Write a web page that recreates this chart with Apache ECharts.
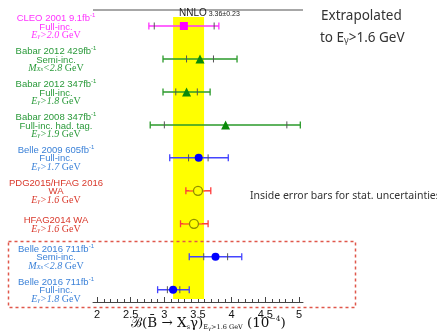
<!DOCTYPE html>
<html><head><meta charset="utf-8">
<script src="https://cdn.jsdelivr.net/npm/echarts@6/dist/echarts.min.js"></script>
<style>html,body{margin:0;padding:0;background:#fff}#c{width:437px;height:334px}</style>
</head><body><div id="c"></div>
<script>
// ---- data ----
const names   = ['CLEO 2001 9.1fb', 'Babar 2012 429fb', 'Babar 2012 347fb', 'Babar 2008 347fb', 'Belle 2009 605fb', 'PDG2015/HFAG 2016', 'HFAG2014 WA', 'Belle 2016 711fb', 'Belle 2016 711fb'];
const lumiSup = ['-1', '-1', '-1', '-1', '-1', '', '', '-1', '-1'];
const methods = ['Full-inc.', 'Semi-inc.', 'Full-inc.', 'Full-inc. had. tag.', 'Full-inc.', 'WA', '', 'Semi-inc.', 'Full-inc.'];
const cutVar  = ['E', 'M', 'E', 'E', 'E', 'E', 'E', 'M', 'E'];
const cutSub  = ['γ', 'Xs', 'γ', 'γ', 'γ', 'γ', 'γ', 'Xs', 'γ'];
const cutOp   = ['>', '<', '>', '>', '>', '>', '>', '<', '>'];
const cutVal  = ['2.0', '2.8', '1.8', '1.9', '1.7', '1.6', '1.6', '2.8', '1.8'];
const groups  = ['cleo', 'babar', 'babar', 'babar', 'belle', 'avg', 'avg', 'belle', 'belle'];
const central = [3.29, 3.53, 3.33, 3.91, 3.51, 3.50, 3.44, 3.76, 3.13];
const totLo   = [2.77, 2.98, 2.98, 2.79, 3.08, 3.32, 3.24, 3.37, 2.90];
const totHi   = [3.81, 4.08, 3.68, 5.02, 3.95, 3.69, 3.65, 4.15, 3.37];
const statLo  = [2.85, 3.33, 3.17, 3.00, 3.36, 3.37, 3.28, 3.585, 3.045];
const statHi  = [3.74, 3.73, 3.49, 4.82, 3.65, 3.60, 3.56, 3.94, 3.23];
const nnloCentral = 3.36, nnloErr = 0.23;
const tickVals  = [2, 2.5, 3, 3.5, 4, 4.5, 5];
const tickLabels = ['2', '2.5', '3', '3.5', '4', '4.5', '5'];

// ---- styles ----
const G = {
  cleo:  {text: '#ff33ff', bar: '#ff33ff', fill: '#ff00ff', border: '#ff00ff', bw: 0, symbol: 'rect', size: 8, stat: 'tick'},
  babar: {text: '#2a9a3a', bar: '#2a9a2a', fill: '#0a8a0a', border: '#0a8a0a', bw: 0, symbol: 'triangle', size: 9, stat: 'tick'},
  belle: {text: '#3c82d8', bar: '#4444ff', fill: '#0000ff', border: '#0000ff', bw: 0, symbol: 'circle', size: 8, stat: 'tick'},
  avg:   {text: '#d9382b', bar: '#ff3b3b', fill: '#ffff00', border: '#8f8f00', bw: 1.3, symbol: 'circle', size: 9, stat: 'segment'}
};
const rows = names.map((n, i) => i);
const minorVals = [];
for (let v = 20; v <= 50; v++) if (v % 5) minorVals.push(v / 10);
const yMin = -0.485, yMax = 8.373;

const chart = echarts.init(document.getElementById('c'), null, {renderer: 'canvas'});

const rich = {
  n: {fontFamily: 'Liberation Sans, Arial, sans-serif', fontSize: 9.5, lineHeight: 10},
  s: {fontFamily: 'Liberation Sans, Arial, sans-serif', fontSize: 6, lineHeight: 10, padding: [0, 0, 6, 0]},
  i: {fontFamily: 'Liberation Serif, serif', fontStyle: 'italic', fontSize: 10, lineHeight: 10},
  b: {fontFamily: 'Liberation Serif, serif', fontStyle: 'italic', fontSize: 6.5, lineHeight: 10, padding: [3, 0, 0, 0]},
  r: {fontFamily: 'Liberation Serif, serif', fontSize: 10, lineHeight: 10}
};

function renderErr(params, api) {
  const r = api.value(0);
  const g = G[groups[r]];
  const pC = api.coord([central[r], r]);
  const y = pC[1];
  const xLo = api.coord([api.value(1), r])[0];
  const xHi = api.coord([api.value(2), r])[0];
  const sLo = api.coord([api.value(3), r])[0];
  const sHi = api.coord([api.value(4), r])[0];
  const ch = [];
  ch.push({type: 'line', shape: {x1: xLo, y1: y, x2: xHi, y2: y}, style: {stroke: g.bar, lineWidth: 1.5}});
  ch.push({type: 'line', shape: {x1: xLo, y1: y - 3.5, x2: xLo, y2: y + 3.5}, style: {stroke: g.bar, lineWidth: 1.3}});
  ch.push({type: 'line', shape: {x1: xHi, y1: y - 3.5, x2: xHi, y2: y + 3.5}, style: {stroke: g.bar, lineWidth: 1.3}});
  if (g.stat === 'tick') {
    ch.push({type: 'line', shape: {x1: sLo, y1: y - 3.5, x2: sLo, y2: y + 3.5}, style: {stroke: '#555', lineWidth: 1}});
    ch.push({type: 'line', shape: {x1: sHi, y1: y - 3.5, x2: sHi, y2: y + 3.5}, style: {stroke: '#555', lineWidth: 1}});
  } else {
    ch.push({type: 'line', shape: {x1: sLo, y1: y, x2: sHi, y2: y}, style: {stroke: '#ff8a1a', lineWidth: 1.6}});
  }
  // labels
  const lines = [];
  lines.push('{n|' + names[r] + '}' + (lumiSup[r] ? '{s|' + lumiSup[r] + '}' : ''));
  if (methods[r]) lines.push('{n|' + methods[r] + '}');
  lines.push('{i|' + cutVar[r] + '}{b|' + cutSub[r] + '}{i|' + cutOp[r] + cutVal[r] + '}{r| GeV}');
  const step = 8.3;
  const yc = y + 1;
  lines.forEach((t, k) => {
    const yy = yc + (k - (lines.length - 1) / 2) * step;
    ch.push({type: 'text', style: {text: t, rich: rich, x: 56, y: yy, align: 'center', verticalAlign: 'middle', fill: g.text}});
  });
  return {type: 'group', children: ch};
}

const scatterSeries = Object.keys(G).map(k => ({
  type: 'scatter',
  xAxisIndex: 0, yAxisIndex: 0,
  symbol: G[k].symbol,
  symbolSize: G[k].size,
  itemStyle: {color: G[k].fill, borderColor: G[k].border, borderWidth: G[k].bw, opacity: 1},
  z: 5,
  data: rows.filter(r => groups[r] === k).map(r => [central[r], r])
}));

const gridBox = {left: 93, right: 134, top: 10, bottom: 32};

chart.setOption({
  animation: false,
  grid: [Object.assign({}, gridBox), Object.assign({}, gridBox)],
  xAxis: [
    {gridIndex: 0, type: 'value', min: 1.94, max: 5.06, position: 'bottom',
     axisLine: {show: true, onZero: false, lineStyle: {color: '#444', width: 1}},
     axisTick: {show: true, inside: true, length: 5, customValues: tickVals, lineStyle: {color: '#444'}},
     axisLabel: {show: true, customValues: tickVals, margin: 7, fontSize: 11, color: '#111', fontFamily: 'Liberation Sans, Arial, sans-serif',
       formatter: v => tickLabels[tickVals.indexOf(Math.round(v * 10) / 10)] || ''},
     splitLine: {show: false}},
    {gridIndex: 1, type: 'value', min: 1.94, max: 5.06, position: 'bottom',
     axisLine: {show: false, onZero: false},
     axisTick: {show: true, inside: true, length: 3, customValues: minorVals, lineStyle: {color: '#444'}},
     axisLabel: {show: false}, splitLine: {show: false}}
  ],
  yAxis: [
    {gridIndex: 0, type: 'value', inverse: true, min: yMin, max: yMax, show: false},
    {gridIndex: 1, type: 'value', min: 0, max: 1, show: false}
  ],
  series: [
    {type: 'custom', xAxisIndex: 0, yAxisIndex: 0, clip: false, z: 3,
     renderItem: renderErr,
     data: rows.map(r => [r, totLo[r], totHi[r], statLo[r], statHi[r]]),
     markArea: {silent: true, z: 1, itemStyle: {color: '#ffff00', opacity: 1},
       label: {show: false},
       data: [[{xAxis: nnloCentral - nnloErr, yAxis: -0.27}, {xAxis: nnloCentral + nnloErr, yAxis: 8.28}]]},
     markLine: {silent: true, symbol: 'none', label: {show: false},
       lineStyle: {color: '#8a8a8a', width: 1.5, type: 'solid'},
       data: [{yAxis: yMin}]}
    }
  ].concat(scatterSeries),
  graphic: [
    {type: 'text', left: 179, top: 8, z: 10, style: {text: '{a|NNLO}{b| ' + nnloCentral.toFixed(2) + '±' + nnloErr.toFixed(2) + '}',
      rich: {a: {fontSize: 10, fontFamily: 'Liberation Sans, Arial, sans-serif', fill: '#222'},
             b: {fontSize: 7, fontFamily: 'Liberation Sans, Arial, sans-serif', fill: '#222', padding: [2, 0, 0, 0]}}}},
    {type: 'text', left: 321, top: 9, style: {text: 'Extrapolated', fontSize: 13.5, fontFamily: 'Noto Sans, sans-serif', fill: '#333'}},
    {type: 'text', left: 320, top: 31, style: {text: '{t|to E}{g|γ}{t|>1.6 GeV}',
      rich: {t: {fontSize: 13.5, fontFamily: 'Noto Sans, sans-serif', fill: '#333'},
             g: {fontSize: 9, fontFamily: 'Noto Sans, sans-serif', fill: '#333', padding: [4, 0, 0, 0]}}}},
    {type: 'text', left: 250, top: 191, style: {text: 'Inside error bars for stat. uncertainties', fontSize: 10.5, fontFamily: 'Noto Sans, sans-serif', fill: '#333'}},
    {type: 'rect', left: 6, top: 239, z: 20, shape: {width: 347, height: 66},
      style: {fill: 'none', stroke: '#e0574b', lineWidth: 1.5, lineDash: [3, 3]}},
    {type: 'text', left: 131, top: 315, style: {
      text: '{m|ℬ(B̄ → X}{sb|s}{m|γ)}{sb|E}{sg|γ}{sb|>1.6 GeV}{m| (10}{sp|−4}{m|)}',
      rich: {m: {fontSize: 13.5, fontFamily: 'DejaVu Serif, serif', fill: '#111'},
             sb: {fontSize: 6.5, fontFamily: 'DejaVu Serif, serif', fill: '#111', padding: [8, 0, 0, 0]},
             sg: {fontSize: 5, fontFamily: 'DejaVu Serif, serif', fill: '#111', padding: [11, 0, 0, 0]},
             sp: {fontSize: 7.5, fontFamily: 'DejaVu Serif, serif', fill: '#111', padding: [0, 0, 8, 0]}}}}
  ]
});
</script></body></html>
